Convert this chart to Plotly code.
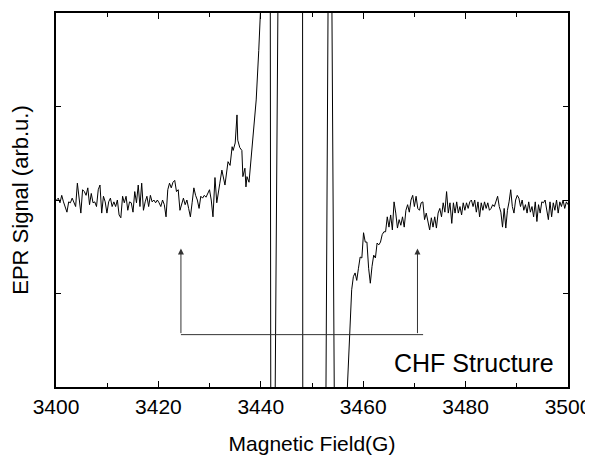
import numpy as np
import plotly.graph_objects as go

# ---- data (EPR derivative signal, arbitrary units) ----
# Segment A: left baseline noise, 3400.1 .. 3430.7 G (evenly sampled)
left_noise = [0.00, 0.02, -0.03, 0.05, -0.02, -0.07, -0.13, -0.02, -0.03, 0.02,
              -0.03, -0.07, 0.18, 0.00, -0.14, 0.11, 0.09, 0.05, 0.13, -0.05,
              0.07, -0.03, -0.02, -0.07, 0.11, 0.16, -0.14, 0.04, -0.02, -0.14,
              -0.02, 0.02, -0.07, -0.02, -0.07, 0.00, -0.16, -0.19, 0.04, -0.03,
              0.04, -0.11, -0.02, -0.03, -0.13, 0.09, -0.03, 0.16, -0.07, 0.18,
              -0.11, -0.02, 0.04, -0.07, 0.05, -0.02, 0.00, -0.03, 0.00,
              -0.03, -0.07, 0.00, -0.05, -0.18, 0.11, 0.18, 0.13, 0.19, 0.21,
              0.09, 0.11, -0.11, -0.03, 0.02, -0.05, 0.00, -0.09, -0.18, -0.03,
              0.13, 0.05, 0.00, -0.09, 0.04, 0.02, 0.05, 0.03, 0.07, 0.11,
              0.00, -0.18]
left_field_start, left_field_end = 3400.1, 3430.66

# Segment B/C: hyperfine region (explicit points, off-scale excursions)
mid_field = [3431.05, 3431.4, 3432.0, 3432.4, 3433.0, 3433.6, 3434.0, 3434.4,
             3434.6, 3435.0, 3435.35, 3435.5, 3435.9, 3436.3, 3436.5, 3436.9,
             3437.1, 3437.3, 3437.7, 3438.3, 3438.5, 3439.1, 3439.6, 3440.0,
             3440.6, 3441.7, 3442.1, 3442.75, 3443.4, 3444.2, 3448.1, 3448.26,
             3451.0, 3452.68, 3453.18, 3453.5, 3453.84, 3454.4, 3455.5, 3456.75]
mid_signal = [0.24, -0.03, 0.18, 0.32, 0.16, 0.41, 0.37, 0.57,
              0.53, 0.61, 0.91, 0.64, 0.56, 0.53, 0.25, 0.34,
              0.14, 0.25, 0.19, 0.57, 0.72, 1.07, 1.60, 2.10,
              9.0, 9.0, -9.0, -2.5, 2.5, 9.0, 9.0, -9.0,
              -9.0, -2.5, 2.5, 5.0, 2.5, -2.5, -6.0, -2.2]

# Segment D: recovery on the high-field side, 3457.75 .. 3476.95 G
right_rise = [-0.96, -0.82, -0.78, -0.86, -0.73, -0.61, -0.62, -0.35, -0.45, -0.45,
              -0.73, -0.89, -0.71, -0.59, -0.62, -0.46, -0.48, -0.45, -0.37, -0.34,
              -0.34, -0.18, -0.29, -0.16, -0.32, -0.02, -0.14, -0.30, -0.21, -0.27,
              -0.18, -0.29, -0.11, -0.05, -0.13, 0.00, 0.05, -0.07, 0.04, -0.09,
              -0.11, -0.03, -0.02, -0.21, -0.14, -0.23, -0.32, -0.19, -0.29, -0.18,
              -0.30, -0.14, -0.09, -0.18, -0.03, -0.13, 0.09, -0.14, -0.03]
rise_field_start, rise_field_end = 3457.75, 3476.95

# Segment E: right baseline noise, 3477.3 .. 3500 G
right_noise = [-0.25, -0.03, -0.14, -0.02, -0.14, -0.07, -0.16, -0.03, -0.11, -0.03,
               -0.09, -0.02, 0.00, -0.07, 0.00, -0.13, -0.02, -0.18, -0.03, -0.11,
               -0.02, -0.09, -0.03, -0.11, -0.09, -0.05, -0.07, -0.02, 0.04, -0.07,
               -0.13, -0.29, -0.09, -0.30, -0.11, -0.02, 0.11, -0.07, -0.14, 0.00,
               0.05, 0.02, -0.07, 0.00, -0.11, -0.05, -0.14, -0.02, -0.13, -0.07,
               -0.18, -0.02, -0.23, -0.05, -0.14, -0.02, -0.03, 0.00, -0.09, -0.21,
               -0.02, -0.18, -0.03, -0.11, 0.00, -0.14, -0.02, -0.07, 0.00, -0.09,
               -0.02, -0.05]
noise_field_start, noise_field_end = 3477.3, 3500.0

# Annotation (CHF structure bracket)
bracket_fields = [3424.4, 3470.6]
bracket_base, bracket_top = -1.44, -0.52
bracket_line_end = 3471.7
label_text = "CHF Structure"

x_ticks = [3400, 3420, 3440, 3460, 3480, 3500]
y_ticks = [-2, -1, 0, 1, 2]

# ---- assemble ----
field = np.concatenate([
    np.linspace(left_field_start, left_field_end, len(left_noise)),
    mid_field,
    np.linspace(rise_field_start, rise_field_end, len(right_rise)),
    np.linspace(noise_field_start, noise_field_end, len(right_noise)),
])
signal = np.concatenate([left_noise, mid_signal, right_rise, right_noise])

FONT = "Arial, 'Liberation Sans', Helvetica, sans-serif"

fig = go.Figure()
fig.add_trace(go.Scatter(x=field, y=signal, mode="lines",
                         line=dict(color="black", width=1), showlegend=False,
                         hoverinfo="skip"))

# bracket: horizontal base line + two arrows
fig.add_shape(type="line", xref="x", yref="y",
              x0=bracket_fields[0], x1=bracket_line_end,
              y0=bracket_base, y1=bracket_base,
              line=dict(color="#333333", width=1))
for bx in bracket_fields:
    fig.add_annotation(x=bx, y=bracket_top, ax=bx, ay=bracket_base,
                       xref="x", yref="y", axref="x", ayref="y",
                       showarrow=True, arrowhead=2, arrowsize=1.2,
                       arrowwidth=1, arrowcolor="#333333", text="")

fig.add_annotation(x=3497.6, y=-1.74, xref="x", yref="y", text=label_text,
                   showarrow=False, xanchor="right", yanchor="middle",
                   font=dict(family=FONT, size=25, color="black"))

axis_common = dict(showline=True, linecolor="black", linewidth=1.6,
                   mirror="allticks", ticks="inside", tickcolor="black",
                   showgrid=False, zeroline=False, automargin=False)

fig.update_xaxes(range=[3400, 3500], tickvals=x_ticks, ticklen=6, tickwidth=1.2,
                 tickfont=dict(family=FONT, size=21, color="black"),
                 minor=dict(dtick=10, ticks="inside", ticklen=4, tickcolor="black",
                            tickwidth=1, showgrid=False),
                 title=dict(text="Magnetic Field(G)", standoff=19,
                            font=dict(family=FONT, size=21, color="black")),
                 **axis_common)
fig.update_yaxes(range=[-2, 2], tickvals=y_ticks, showticklabels=False,
                 ticklen=5, tickwidth=1.2,
                 title=dict(text="EPR Signal (arb.u.)", standoff=20,
                            font=dict(family=FONT, size=22, color="black")),
                 **axis_common)

# page body adds an 8px offset, so the figure is 585x449
fig.update_layout(width=585, height=449,
                  margin=dict(l=48, r=25, t=5, b=70),
                  plot_bgcolor="white", paper_bgcolor="white",
                  font=dict(family=FONT, color="black"))

fig.write_html("out.html")
